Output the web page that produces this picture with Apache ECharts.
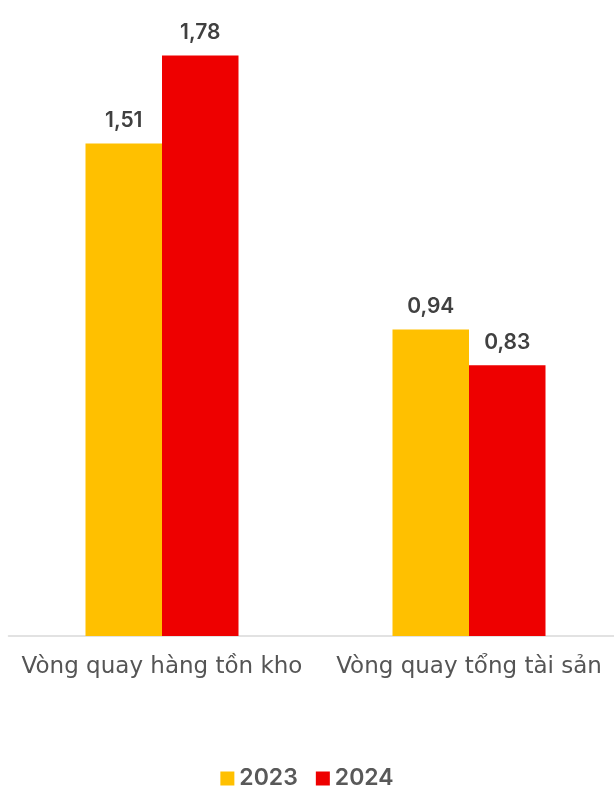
<!DOCTYPE html>
<html>
<head>
<meta charset="utf-8">
<script src="https://cdn.jsdelivr.net/npm/echarts@6/dist/echarts.min.js"></script>
<style>
  html, body { margin: 0; padding: 0; background: #fff; }
  #chart { width: 614px; height: 787px; }
</style>
</head>
<body>
<div id="chart"></div>
<script>
const categories = ['Vòng quay hàng tồn kho', 'Vòng quay tổng tài sản']
const years = ['2023', '2024']
const values2023 = [1.51, 0.94]
const values2024 = [1.78, 0.83]

const chart = echarts.init(document.getElementById('chart'))

const labelStyle = {
  show: true,
  position: 'top',
  distance: 12,
  color: '#404040',
  fontFamily: 'Inter',
  fontWeight: 600,
  fontSize: 21,
  formatter: (p) => p.value.toFixed(2).replace('.', ',')
}

chart.setOption({
  animation: false,
  textStyle: { fontFamily: 'Inter' },
  grid: { left: 8.5, top: 0, width: 614, bottom: 151, outerBoundsMode: 'none', containLabel: false },
  legend: {
    top: 762,
    left: 'center',
    icon: 'rect',
    itemWidth: 14,
    itemHeight: 14,
    itemGap: 18,
    data: years,
    textStyle: { color: '#595959', fontSize: 23, fontWeight: 600 }
  },
  xAxis: {
    type: 'category',
    data: categories,
    axisLine: { lineStyle: { color: '#d9d9d9', width: 1.5 } },
    axisTick: { show: false },
    axisLabel: {
      interval: 0,
      hideOverlap: false,
      color: '#555555',
      fontFamily: 'DejaVu Sans',
      fontSize: 23,
      margin: 20
    }
  },
  yAxis: {
    type: 'value',
    min: 0,
    max: 1.95,
    show: false,
    splitLine: { show: false }
  },
  series: [
    {
      name: years[0],
      type: 'bar',
      data: values2023,
      barWidth: 76.5,
      barGap: '0%',
      itemStyle: { color: '#ffc000' },
      label: labelStyle
    },
    {
      name: years[1],
      type: 'bar',
      data: values2024,
      barWidth: 76.5,
      itemStyle: { color: '#ee0000' },
      label: labelStyle
    }
  ]
})
</script>
</body>
</html>
